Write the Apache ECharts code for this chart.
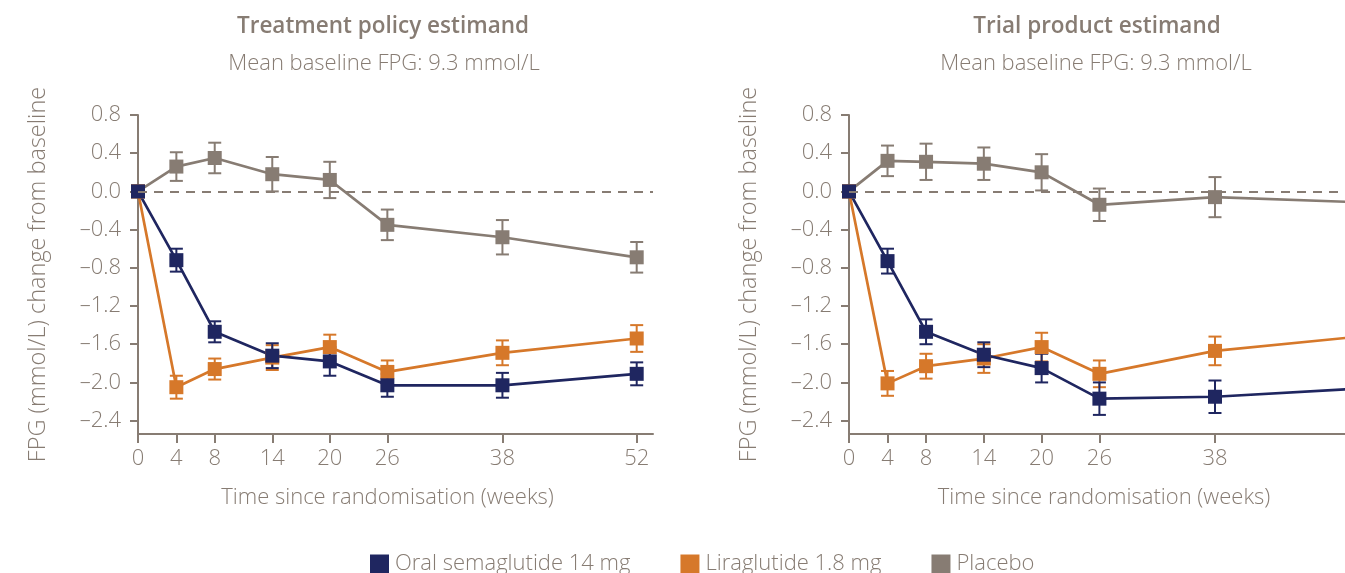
<!DOCTYPE html>
<html>
<head>
<meta charset="utf-8">
<script src="https://cdn.jsdelivr.net/npm/echarts@6/dist/echarts.min.js"></script>
<style>
  html, body { margin: 0; padding: 0; background: #ffffff; }
  #chart { width: 1345px; height: 573px; }
</style>
</head>
<body>
<div id="chart"></div>
<script>
// Weeks at which FPG was assessed
const weeks = [0, 4, 8, 14, 20, 26, 38, 52];
const weekTicksPolicy = [0, 4, 8, 14, 20, 26, 38, 52];
const weekTicksProduct = [0, 4, 8, 14, 20, 26, 38];
const fpgTicks = [-2.4, -2.0, -1.6, -1.2, -0.8, -0.4, 0.0, 0.4, 0.8];

// Treatment policy estimand: mean change and error half-width
const policySema = [0, -0.72, -1.47, -1.72, -1.78, -2.03, -2.03, -1.91];
const policySemaErr = [0, 0.12, 0.11, 0.13, 0.15, 0.12, 0.13, 0.12];
const policyLira = [0, -2.05, -1.86, -1.74, -1.63, -1.89, -1.69, -1.54];
const policyLiraErr = [0, 0.12, 0.11, 0.13, 0.13, 0.12, 0.13, 0.14];
const policyPlacebo = [0, 0.26, 0.35, 0.18, 0.12, -0.35, -0.48, -0.69];
const policyPlaceboErr = [0, 0.15, 0.16, 0.18, 0.19, 0.16, 0.18, 0.16];

// Trial product estimand: mean change and error half-width
const productSema = [0, -0.73, -1.47, -1.71, -1.85, -2.17, -2.15, -2.07];
const productSemaErr = [0, 0.13, 0.13, 0.13, 0.15, 0.17, 0.17, 0.15];
const productLira = [0, -2.01, -1.83, -1.75, -1.63, -1.91, -1.67, -1.53];
const productLiraErr = [0, 0.13, 0.13, 0.15, 0.15, 0.14, 0.15, 0.15];
const productPlacebo = [0, 0.32, 0.31, 0.29, 0.20, -0.14, -0.06, -0.11];
const productPlaceboErr = [0, 0.16, 0.19, 0.17, 0.19, 0.17, 0.21, 0.20];

const seriesNames = ['Oral semaglutide 14 mg', 'Liraglutide 1.8 mg', 'Placebo'];
const panelTitles = ['Treatment policy estimand', 'Trial product estimand'];
const panelSubtitle = 'Mean baseline FPG: 9.3 mmol/L';
const xAxisTitle = 'Time since randomisation (weeks)';
const yAxisTitle = 'FPG (mmol/L) change from baseline';

const NAVY = '#1f2660';
const ORANGE = '#d6782a';
const GREY = '#877c73';
const TEXT = '#877c73';
const FONT = "'Open Sans', 'Noto Sans', sans-serif";
const FS = 22;

const chart = echarts.init(document.getElementById('chart'), null, { renderer: 'canvas' });

function fmtFpg(v) {
  const s = Math.abs(v).toFixed(1);
  return (v < -1e-9 ? '\u2013' : '') + s;
}

function lineData(values) {
  return weeks.map((w, i) => [w, values[i]]);
}

function errData(values, errs) {
  return weeks.map((w, i) => [w, values[i] - errs[i], values[i] + errs[i], errs[i]]);
}

function errorBars(idx, values, errs, color) {
  return {
    type: 'custom',
    xAxisIndex: idx,
    yAxisIndex: idx,
    clip: true,
    silent: true,
    data: errData(values, errs),
    renderItem: function (params, api) {
      if (api.value(3) <= 0) return null;
      const x = api.value(0);
      const lo = api.coord([x, api.value(1)]);
      const hi = api.coord([x, api.value(2)]);
      const cs = params.coordSys;
      // points past the end of the axis stay hidden
      if (lo[0] > cs.x + cs.width + 0.5) return null;
      const hw = 6.5;
      const st = { stroke: color, lineWidth: 2 };
      return {
        type: 'group',
        children: [
          { type: 'line', shape: { x1: lo[0], y1: lo[1], x2: hi[0], y2: hi[1] }, style: st },
          { type: 'line', shape: { x1: lo[0] - hw, y1: lo[1], x2: lo[0] + hw, y2: lo[1] }, style: st },
          { type: 'line', shape: { x1: hi[0] - hw, y1: hi[1], x2: hi[0] + hw, y2: hi[1] }, style: st }
        ]
      };
    }
  };
}

function lineSeries(idx, name, values, color, withZeroLine) {
  const s = {
    type: 'line',
    name: name,
    xAxisIndex: idx,
    yAxisIndex: idx,
    data: lineData(values),
    symbol: 'rect',
    symbolSize: 14,
    showAllSymbol: true,
    clip: true,
    color: color,
    itemStyle: { color: color },
    lineStyle: { color: color, width: 2.7 },
    emphasis: { disabled: true },
    animation: false
  };
  if (withZeroLine) {
    s.markLine = {
      silent: true,
      symbol: 'none',
      label: { show: false },
      lineStyle: { color: GREY, width: 2, type: [9, 7] },
      data: [{ yAxis: 0 }],
      animation: false
    };
  }
  return s;
}

function xAxisFor(idx, max, ticks, namePad) {
  return {
    type: 'value',
    gridIndex: idx,
    min: 0,
    max: max,
    name: xAxisTitle,
    nameLocation: 'middle',
    nameGap: 53,
    nameTextStyle: { color: TEXT, fontSize: FS, fontFamily: FONT, fontWeight: 300, padding: namePad },
    axisLine: { show: true, onZero: false, lineStyle: { color: GREY, width: 2 } },
    axisTick: { show: true, length: 9, lineStyle: { color: GREY, width: 2 }, customValues: ticks },
    axisLabel: { color: TEXT, fontSize: FS, fontFamily: FONT, fontWeight: 300, margin: 14, customValues: ticks },
    splitLine: { show: false }
  };
}

function yAxisFor(idx) {
  return {
    type: 'value',
    gridIndex: idx,
    min: -2.54,
    max: 0.8,
    name: yAxisTitle,
    nameLocation: 'middle',
    nameGap: 88,
    nameTextStyle: { color: TEXT, fontSize: 23.5, fontFamily: FONT, fontWeight: 300 },
    axisLine: { show: true, onZero: false, lineStyle: { color: GREY, width: 2 } },
    axisTick: { show: true, length: 8, lineStyle: { color: GREY, width: 2 }, customValues: fpgTicks },
    axisLabel: { color: TEXT, fontSize: FS, fontFamily: FONT, fontWeight: 300, margin: 17,
      customValues: fpgTicks, formatter: fmtFpg },
    splitLine: { show: false }
  };
}

function headerText(x, y, text, size, weight) {
  return {
    type: 'text',
    x: x,
    y: y,
    silent: true,
    style: {
      text: text,
      fill: TEXT,
      font: weight + ' ' + size + 'px ' + FONT,
      align: 'center',
      verticalAlign: 'middle'
    }
  };
}

const option = {
  animation: false,
  backgroundColor: '#ffffff',
  grid: [
    { left: 138, top: 115, width: 515, height: 319, containLabel: false },
    { left: 849, top: 115, width: 496, height: 319, containLabel: false }
  ],
  xAxis: [
    xAxisFor(0, 53.7, weekTicksPolicy, [0, 16, 0, 0]),
    xAxisFor(1, 51.5, weekTicksProduct, [0, 0, 0, 14])
  ],
  yAxis: [yAxisFor(0), yAxisFor(1)],
  legend: {
    data: seriesNames.map(n => ({ name: n, icon: 'rect' })),
    left: 365,
    top: 548,
    itemWidth: 19,
    itemHeight: 19,
    itemGap: 50,
    selectedMode: false,
    textStyle: { color: TEXT, fontSize: FS, fontFamily: FONT, fontWeight: 300, padding: [0, 0, 0, 1] }
  },
  graphic: [
    headerText(383, 27, panelTitles[0], 22.5, 600),
    headerText(384, 64, panelSubtitle, 22, 300),
    headerText(1097, 27, panelTitles[1], 22.5, 600),
    headerText(1096, 64, panelSubtitle, 22, 300)
  ],
  series: [
    errorBars(0, policyPlacebo, policyPlaceboErr, GREY),
    lineSeries(0, seriesNames[2], policyPlacebo, GREY, true),
    errorBars(0, policyLira, policyLiraErr, ORANGE),
    lineSeries(0, seriesNames[1], policyLira, ORANGE, false),
    errorBars(0, policySema, policySemaErr, NAVY),
    lineSeries(0, seriesNames[0], policySema, NAVY, false),

    errorBars(1, productPlacebo, productPlaceboErr, GREY),
    lineSeries(1, seriesNames[2], productPlacebo, GREY, true),
    errorBars(1, productLira, productLiraErr, ORANGE),
    lineSeries(1, seriesNames[1], productLira, ORANGE, false),
    errorBars(1, productSema, productSemaErr, NAVY),
    lineSeries(1, seriesNames[0], productSema, NAVY, false)
  ]
};

chart.setOption(option);
</script>
</body>
</html>
